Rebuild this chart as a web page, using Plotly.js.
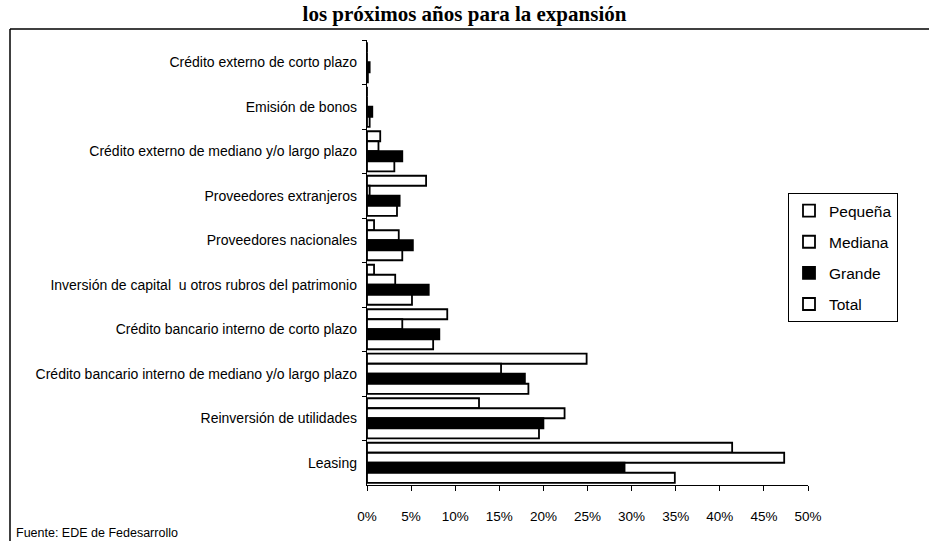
<!DOCTYPE html>
<html>
<head>
<meta charset="utf-8">
<script src="https://cdn.plot.ly/plotly-3.0.1.min.js"></script>
<style>html,body{margin:0;padding:0;background:#fff;}#chart{width:929px;height:541px;}</style>
</head>
<body>
<div id="chart"></div>
<script>
const categories = [
  "Crédito externo de corto plazo",
  "Emisión de bonos",
  "Crédito externo de mediano y/o largo plazo",
  "Proveedores extranjeros",
  "Proveedores nacionales",
  "Inversión de capital  u otros rubros del patrimonio",
  "Crédito bancario interno de corto plazo",
  "Crédito bancario interno de mediano y/o largo plazo",
  "Reinversión de utilidades",
  "Leasing"
];
const pequena = [0, 0, 1.5, 6.7, 0.8, 0.8, 9.1, 24.9, 12.7, 41.4];
const mediana = [0, 0, 1.3, 0.3, 3.6, 3.2, 4.0, 15.2, 22.4, 47.3];
const grande  = [0.3, 0.6, 4.0, 3.7, 5.2, 7.0, 8.2, 17.9, 20.0, 29.2];
const total   = [0.1, 0.3, 3.1, 3.4, 4.0, 5.1, 7.5, 18.3, 19.5, 34.9];
const seriesNames = ["Pequeña", "Mediana", "Grande", "Total"];
const tickVals = [0, 5, 10, 15, 20, 25, 30, 35, 40, 45, 50];
const tickText = ["0%", "5%", "10%", "15%", "20%", "25%", "30%", "35%", "40%", "45%", "50%"];
const titleText = "los próximos años para la expansión";
const sourceText = "Fuente: EDE de Fedesarrollo";

const seriesValues = [pequena, mediana, grande, total];
const fills = ["#ffffff", "#ffffff", "#000000", "#ffffff"];

const traces = seriesNames.map((n, i) => ({
  type: "bar",
  orientation: "h",
  name: n,
  legendgroup: n,
  y: categories,
  x: seriesValues[i],
  marker: {color: fills[i], line: {color: "#000", width: 1.8}},
  hoverinfo: "skip"
}));

const L = 367, R = 808, T = 40, B = 485;
const W = R - L, H = B - T;
const px = v => (v - L) / W;
const py = v => (B - v) / H;

const layout = {
  width: 929, height: 541,
  paper_bgcolor: "#fff", plot_bgcolor: "#fff",
  margin: {l: L, r: 929 - R, t: T, b: 541 - B},
  font: {family: "Liberation Sans, Arial, sans-serif", color: "#000", size: 12},
  barmode: "group",
  bargap: 0.1,
  bargroupgap: 0,
  title: {
    text: "<b>" + titleText + "</b>",
    font: {family: "Liberation Serif, Times New Roman, serif", size: 21, color: "#000"},
    x: 0.5, xanchor: "center", y: 1 - 6 / 541, yref: "container", yanchor: "top", pad: {t: 0}
  },
  xaxis: {
    range: [0, 50], tickvals: tickVals, ticktext: tickText,
    showgrid: false, zeroline: false,
    showline: true, linecolor: "#000", linewidth: 1.2,
    ticks: "outside", ticklen: 5, tickcolor: "#000",
    ticklabelstandoff: 14,
    tickfont: {size: 13.5, family: "Liberation Sans, Arial, sans-serif"},
    fixedrange: true
  },
  yaxis: {
    type: "category", autorange: "reversed",
    showgrid: false, zeroline: false,
    showline: true, linecolor: "#000", linewidth: 1.2,
    ticks: "outside", ticklen: 4, tickcolor: "#000", tickson: "boundaries",
    ticklabelstandoff: 6,
    tickfont: {size: 14, family: "Liberation Sans, Arial, sans-serif"},
    fixedrange: true
  },
  showlegend: true,
  legend: {
    x: px(788), xanchor: "left", y: py(193), yanchor: "top",
    bgcolor: "#fff", bordercolor: "#000", borderwidth: 1,
    font: {size: 15.5, family: "Liberation Sans, Arial, sans-serif"},
    tracegroupgap: 8, itemwidth: 30
  },
  shapes: [
    {type: "line", xref: "paper", yref: "paper", x0: px(10), x1: px(960), y0: py(29), y1: py(29), line: {color: "#000", width: 1.5}},
    {type: "line", xref: "paper", yref: "paper", x0: px(10), x1: px(10), y0: py(29), y1: py(560), line: {color: "#000", width: 1.5}}
  ],
  annotations: [
    {text: sourceText, xref: "paper", yref: "paper", x: px(14), y: py(533), xanchor: "left", yanchor: "middle",
     showarrow: false, font: {size: 12.5, family: "Liberation Sans, Arial, sans-serif"}}
  ]
};

Plotly.newPlot("chart", traces, layout, {displayModeBar: false, staticPlot: true});
</script>
</body>
</html>
